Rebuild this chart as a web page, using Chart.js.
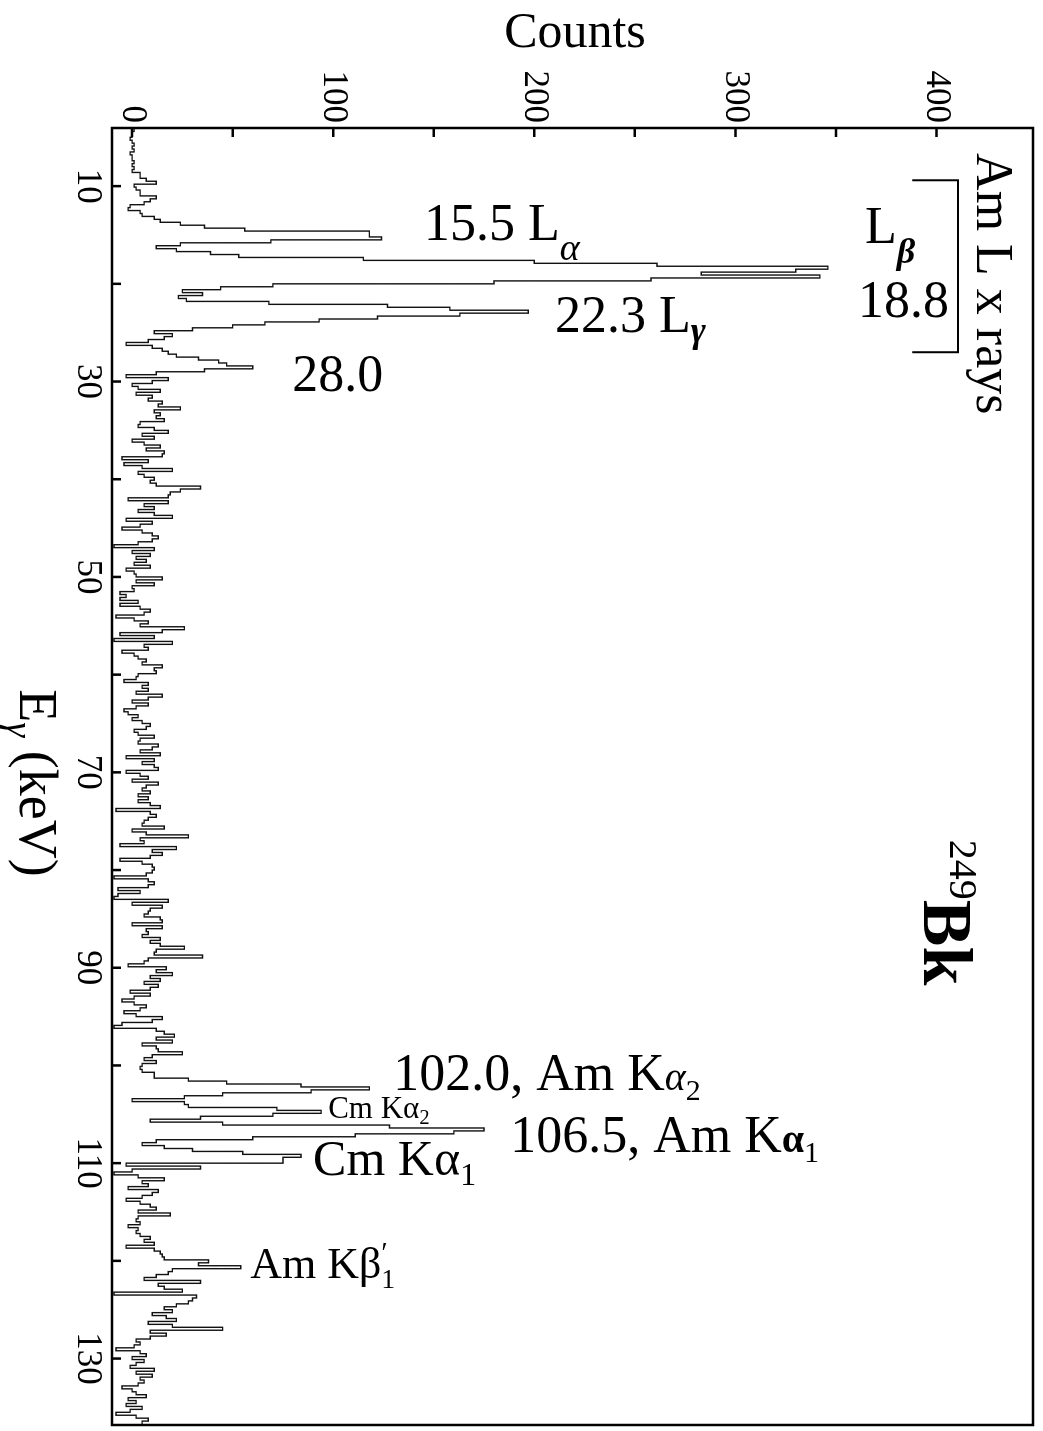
<!DOCTYPE html>
<html>
<head>
<meta charset="utf-8">
<title>249Bk gamma spectrum</title>
<script src="https://cdn.jsdelivr.net/npm/chart.js@4.4.1/dist/chart.umd.min.js"></script>
<style>
  html, body { margin: 0; padding: 0; background: #fff; overflow: hidden; }
  body { width: 1043px; height: 1431px; position: relative; }
  /* the plot is drawn lying down and turned a quarter turn clockwise */
  #wrap { position: absolute; left: 0; top: 0; width: 1431px; height: 1043px;
          transform-origin: 0 0; transform: translate(1043px, 0) rotate(90deg); }
</style>
</head>
<body>
<div id="wrap"><canvas id="canvas" width="1431" height="1043"></canvas></div>
<script>
// histogram bins, 0.3 keV wide, first one starts at 4.1 keV
const binStart = 4.1;
const binWidth = 0.3;

// counts per bin, 4.1 - 34.1 keV (Am L x rays)
const countsLow = [
  1, 0, 0, -1, 0, 1, 0, 1, -1, 0, 0, 1, 0, 1, 0,
  4, 4, 7, 12, 1, 2, 4, 4, 12, 9, 6, -1, -2, 4, 5, 11, 14, 24,
  36, 56, 118, 118, 124, 69, 24, 12, 22, 39, 53, 115, 200, 261, 346, 330, 283, 342, 258, 180,
  70, 44, 25, 35, 23, 27, 68, 127, 158, 197, 163, 122, 93, 66, 50, 30, 11, 20, 16, 8,
  -3, 10, 15, 18, 22, 33, 43, 47, 60, 36, 12, -3, 18, 10, 0, 3, 14, 2, 10, 8, 15, 13, 24, 11, 14, 12, 16
];
// 34.1 - 64.1 keV
const countsMid = [
  4, 3, 11, 18, 5, 11, 0, 6, 14, 7,
  16, 15, -5, 8, -4, 5, 20, 3, 6, 11,
  9, 12, 34, 24, 19, 18, -2, 18, 6, 11,
  3, 11, 20, -3, 10, 4, -5, 5, 10, 13,
  10, 3, -9, 11, 0, 9, 2, 7, 1, 9,
  -3, 1, 2, 15, 2, 11, 0, 1, -6, -3,
  -6, 3, -6, 4, 9, 6, -8, 1, 8, 4,
  26, 15, -6, 11, -9, 20, 6, 8, -5, 1,
  3, 7, 5, 15, 11, 12, 3, 2, -4, 8,
  5, 8, 2, 15, 8, 0, 8, 2, -4, -2
];
// 64.1 - 94.1 keV
const countsHigh = [
  3, 0, 5, 9, 7, 1, 3, 11, 4, 3,
  13, 10, 4, 14, -3, 11, 5, 11, 13, -3,
  4, 8, 0, 13, 7, 5, 9, 3, 8, 3,
  9, 14, -8, 9, 12, 8, 6, 5, 16, 0,
  7, 28, 4, 6, -6, 22, 10, 15, 9, -6,
  5, 10, 11, 10, 7, -9, 8, 11, 8, -7,
  4, -7, -9, 18, 0, 15, 9, 8, 6, 14,
  15, 0, 15, 7, 8, 5, 14, 9, 14, 26,
  12, 11, 35, 8, 6, -2, 17, 12, 20, 9,
  14, 6, 13, 9, -1, 9, 1, -5, 1, 7
];
// 94.1 - 136.7 keV (K x rays)
const countsTop = [
  4, -4, 2, 15, 10, -5, -9, 12, 16, 21,
  12, 20, 5, 12, 13, 25, 10, 6, 12, 5,
  4, 5, 11, 11, 28, 47, 84, 118, 89, 45,
  26, 0, 26, 28, 72, 94, 70, 34, 9, 45,
  128, 175, 160, 111, 60, 12, 5, 16, 30, 55,
  84, 75, 75, -3, 34, 0, -9, 3, 16, 5,
  8, -2, 13, 10, 5, -3, 4, 9, 12, 3,
  19, 3, 2, 4, -2, 3, 2, 4, 9, 6,
  11, -3, 11, 14, 15, 16, 38, 33, 54, 20,
  18, 12, 6, 34, 13, 16, 25, -9, 32, 30,
  28, 22, 16, 20, 10, 17, 22, 8, 20, 45,
  9, 17, 9, 2, 4, 1, -8, 4, 7, 0,
  6, 2, -1, 11, 2, 10, 4, 6, 3, -5,
  0, 2, 7, -2, 2, -3, 5, -1, -8, 2, 8, 5
];

const energyTicks = [10, 20, 30, 40, 50, 60, 70, 80, 90, 100, 110, 120, 130];
const energyTickLabels = ['10', '30', '50', '70', '90', '110', '130'];
const countTicks = [0, 50, 100, 150, 200, 250, 300, 350, 400];
const countTickLabels = ['0', '100', '200', '300', '400'];

const counts = countsLow.concat(countsMid, countsHigh, countsTop);
const points = counts.map((v, i) => ({ x: +(binStart + i * binWidth).toFixed(2), y: v }));
points.push({ x: 136.8, y: counts[counts.length - 1] });

const serif = '"Liberation Serif", "Times New Roman", serif';

// annotations: e = energy at the text baseline, c = counts where the text starts
// up: true for text that reads upright on the final (turned) picture
const notes = [
  { e: -4.23, c: 185, up: true, parts: [{ t: 'Counts', s: 50 }] },
  { e: 61.5, c: -55.7, up: false, parts: [{ t: 'E', s: 54 }, { t: 'γ', s: 38, dy: 13, f: 'italic' }, { t: ' (keV)', s: 54 }] },
  { e: 15.53, c: 145.2, up: true, parts: [{ t: '15.5 L', s: 52 }, { t: 'α', s: 38, dy: 20, f: 'italic' }] },
  { e: 24.94, c: 210.3, up: true, parts: [{ t: '22.3 L', s: 52 }, { t: 'γ', s: 36, dy: 10, f: 'italic bold' }] },
  { e: 30.98, c: 79.6, up: true, parts: [{ t: '28.0', s: 52 }] },
  { e: 15.83, c: 364.5, up: true, parts: [{ t: 'L', s: 52 }, { t: 'β', s: 36, dy: 20, f: 'italic bold' }] },
  { e: 23.4, c: 361, up: true, parts: [{ t: '18.8', s: 52 }] },
  { e: 6.62, c: 420.2, up: false, parts: [{ t: 'Am L x rays', s: 52 }] },
  { e: 76.9, c: 394, up: false, parts: [{ t: '249', s: 40, dy: -26 }, { t: 'Bk', s: 70, f: 'bold' }] },
  { e: 102.5, c: 129.8, up: true, parts: [{ t: '102.0, Am K', s: 52 }, { t: 'α', s: 40, f: 'italic' }, { t: '2', s: 30, dy: 10 }] },
  { e: 105.4, c: 97.5, up: true, parts: [{ t: 'Cm Kα', s: 31 }, { t: '2', s: 21, dy: 6 }] },
  { e: 108.9, c: 188, up: true, parts: [{ t: '106.5, Am K', s: 52 }, { t: 'α', s: 40, f: 'bold' }, { t: '1', s: 30, dy: 10 }] },
  { e: 111.2, c: 90, up: true, parts: [{ t: 'Cm Kα', s: 50 }, { t: '1', s: 32, dy: 10 }] },
  { e: 121.8, c: 58.7, up: true, parts: [{ t: 'Am Kβ', s: 44 }, { t: '′', s: 30, dy: -16, stay: true }, { t: '1', s: 28, dy: 10 }] }
];

const decor = {
  id: 'decor',
  afterDraw(chart) {
    const { ctx, chartArea: a, scales: { x, y } } = chart;
    ctx.save();
    ctx.strokeStyle = '#000';
    ctx.lineWidth = 2.5;
    ctx.strokeRect(a.left, a.top, a.right - a.left, a.bottom - a.top);

    // inward tick marks
    ctx.beginPath();
    energyTicks.forEach(v => {
      const px = x.getPixelForValue(v);
      ctx.moveTo(px, a.bottom);
      ctx.lineTo(px, a.bottom - 9);
    });
    countTicks.forEach(v => {
      const py = y.getPixelForValue(v);
      ctx.moveTo(a.left, py);
      ctx.lineTo(a.left + 9, py);
    });
    ctx.stroke();

    // bracket round the Am L x-ray group
    ctx.lineWidth = 2;
    ctx.beginPath();
    ctx.moveTo(x.getPixelForValue(9.4), y.getPixelForValue(388));
    ctx.lineTo(x.getPixelForValue(9.4), y.getPixelForValue(410.7));
    ctx.lineTo(x.getPixelForValue(27.0), y.getPixelForValue(410.7));
    ctx.lineTo(x.getPixelForValue(27.0), y.getPixelForValue(388));
    ctx.stroke();

    ctx.fillStyle = '#000';
    ctx.textBaseline = 'alphabetic';
    ctx.textAlign = 'left';
    notes.forEach(n => {
      ctx.save();
      ctx.translate(x.getPixelForValue(n.e), y.getPixelForValue(n.c));
      if (n.up) ctx.rotate(-Math.PI / 2);
      let cx = 0;
      n.parts.forEach(p => {
        ctx.font = `${p.f || ''} ${p.s}px ${serif}`;
        ctx.fillText(p.t, cx, p.dy || 0);
        if (!p.stay) cx += ctx.measureText(p.t).width;
      });
      ctx.restore();
    });
    ctx.restore();
  }
};

// keep the plot box where it is in the picture, tick labels do not push it
function noPad(s) {
  s.paddingTop = 0;
  s.paddingBottom = 0;
  s.paddingLeft = 0;
  s.paddingRight = 0;
}

new Chart(document.getElementById('canvas'), {
  type: 'line',
  data: {
    datasets: [{
      data: points,
      stepped: true,
      borderColor: '#111',
      borderWidth: 1.4,
      pointRadius: 0,
      fill: false,
    }],
  },
  options: {
    responsive: false,
    animation: false,
    layout: { padding: { top: 10, right: 6, left: 0, bottom: 0 } },
    plugins: {
      legend: { display: false },
      tooltip: { enabled: false },
    },
    scales: {
      x: {
        type: 'linear',
        min: 4.05,
        max: 136.8,
        grid: { display: false, drawTicks: false },
        border: { display: false },
        afterBuildTicks: (s) => { s.ticks = energyTickLabels.map(t => ({ value: +t })); },
        afterFit: (s) => { s.height = 112; noPad(s); },
        ticks: {
          padding: 4,
          color: '#000',
          font: { family: serif, size: 35 },
          callback: (v) => String(v),
        },
      },
      y: {
        min: -10,
        max: 448,
        grid: { display: false, drawTicks: false },
        border: { display: false },
        afterBuildTicks: (s) => { s.ticks = countTickLabels.map(t => ({ value: +t })); },
        afterFit: (s) => { s.width = 128; noPad(s); },
        ticks: {
          padding: 5,
          color: '#000',
          font: { family: serif, size: 35 },
          callback: (v) => String(v),
        },
      },
    },
  },
  plugins: [decor],
});
</script>
</body>
</html>
